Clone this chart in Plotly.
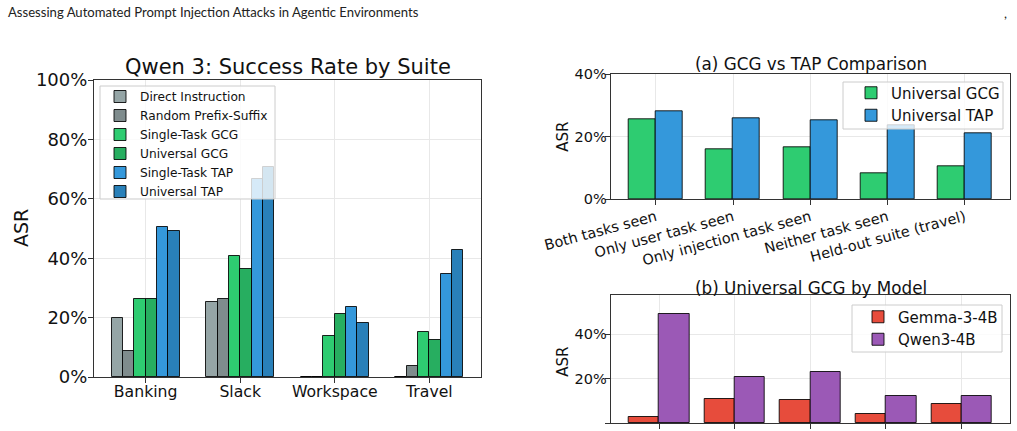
import plotly.graph_objects as go

W, H = 1017, 431

# ---------------- data ----------------
suites = ["Banking", "Slack", "Workspace", "Travel"]
methods = ["Direct Instruction", "Random Prefix-Suffix", "Single-Task GCG",
           "Universal GCG", "Single-Task TAP", "Universal TAP"]
direct_instruction = [20.0, 25.1, 0.0, 0.0]
random_prefix_suffix = [8.8, 26.2, 0.0, 3.8]
single_task_gcg = [26.2, 40.8, 13.7, 15.0]
universal_gcg = [26.2, 36.3, 21.3, 12.6]
single_task_tap = [50.5, 66.7, 23.6, 34.7]
universal_tap = [49.3, 70.7, 18.1, 42.8]
left_series = [direct_instruction, random_prefix_suffix, single_task_gcg,
               universal_gcg, single_task_tap, universal_tap]
method_colors = ["#95a5a6", "#7f8c8d", "#2ecc71", "#27ae60", "#3498db", "#2980b9"]

conditions = ["Both tasks seen", "Only user task seen", "Only injection task seen",
              "Neither task seen", "Held-out suite (travel)"]
cmp_gcg = [25.6, 15.9, 16.6, 8.3, 10.7]
cmp_tap = [28.2, 25.9, 25.3, 23.8, 21.1]

gemma_gcg = [2.8, 11.1, 10.3, 4.0, 8.7]
qwen_gcg = [49.0, 20.9, 22.9, 12.4, 12.4]

left_ticks = [0, 20, 40, 60, 80, 100]
a_ticks = [0, 20, 40]
b_ticks = [0, 20, 40]

# ---------------- helpers ----------------
def px_x(p):
    return p / W

def px_y(p):
    return 1 - p / H

FONT = "DejaVu Sans"
EDGE = dict(color="rgba(0,0,0,0.85)", width=1)
GRID = "#e8e8e8"
SPINE = "#333333"

fig = go.Figure()

# left chart
bw = 0.12
for i, (name, vals, col) in enumerate(zip(methods, left_series, method_colors)):
    fig.add_trace(go.Bar(
        x=suites, y=vals, name=name, width=bw, offset=-0.36 + i * bw,
        marker=dict(color=col, line=EDGE), xaxis="x", yaxis="y",
        legend="legend"))

# (a)
for name, vals, col, off in [("Universal GCG", cmp_gcg, "#2ecc71", -0.35),
                             ("Universal TAP", cmp_tap, "#3498db", 0.0)]:
    fig.add_trace(go.Bar(
        x=conditions, y=vals, name=name, width=0.35, offset=off,
        marker=dict(color=col, line=EDGE), xaxis="x2", yaxis="y2",
        legend="legend2"))

# (b)
for name, vals, col, off in [("Gemma-3-4B", gemma_gcg, "#e74c3c", -0.4),
                             ("Qwen3-4B", qwen_gcg, "#9b59b6", 0.0)]:
    fig.add_trace(go.Bar(
        x=conditions, y=vals, name=name, width=0.4, offset=off,
        marker=dict(color=col, line=EDGE), xaxis="x3", yaxis="y3",
        legend="legend3"))

def xax(domain, anchor, rng, fsize, angle=0, labels=True, standoff=0):
    return dict(domain=domain, anchor=anchor, type="category", range=rng,
                showgrid=True, gridcolor=GRID, gridwidth=1,
                showline=True, linecolor=SPINE, linewidth=1, mirror=True,
                ticks="outside", ticklen=5, tickcolor=SPINE,
                showticklabels=labels, ticklabelstandoff=standoff,
                tickfont=dict(family=FONT, size=fsize, color="#111"),
                tickangle=angle, automargin=False, zeroline=False,
                fixedrange=True)

def yax(domain, anchor, rng, tv, fsize, standoff=0):
    return dict(domain=domain, anchor=anchor, range=rng, tickmode="array",
                tickvals=tv, ticktext=[f"{v}%" for v in tv],
                showgrid=True, gridcolor=GRID, gridwidth=1,
                showline=True, linecolor=SPINE, linewidth=1, mirror=True,
                ticks="outside", ticklen=5, tickcolor=SPINE,
                ticklabelstandoff=standoff,
                tickfont=dict(family=FONT, size=fsize, color="#111"),
                automargin=False, zeroline=False, fixedrange=True)

legend_common = dict(bgcolor="rgba(0,0,0,0)", borderwidth=0,
                     xanchor="left", yanchor="top", tracegroupgap=0)

fig.update_layout(
    width=W, height=H, template="none",
    margin=dict(l=0, r=0, t=0, b=0), autosize=False,
    paper_bgcolor="white", plot_bgcolor="white",
    barmode="overlay", bargap=0,
    font=dict(family=FONT, color="#111"),
    xaxis=xax([px_x(94), px_x(481)], "y", [-0.546, 3.546], 15.7, standoff=-5),
    yaxis=yax([px_y(377), px_y(80)], "x", [0, 100], left_ticks, 18, standoff=-3),
    xaxis2=xax([px_x(610.7), px_x(1010)], "y2", [-0.585, 4.585], 14.5, -15, standoff=-2),
    yaxis2=yax([px_y(199.3), px_y(74.3)], "x2", [0, 40], a_ticks, 14.5, standoff=-5),
    xaxis3=xax([px_x(610.7), px_x(1010)], "y3", [-0.64, 4.64], 14.5, -15, False),
    yaxis3=yax([px_y(423.3), px_y(295)], "x3", [0, 57.7], b_ticks, 14.5, standoff=-5),
    legend=dict(x=px_x(100), y=px_y(82), font=dict(family=FONT, size=12.2),
                **legend_common),
    legend2=dict(x=px_x(851), y=px_y(76.5), font=dict(family=FONT, size=15),
                 **legend_common),
    legend3=dict(x=px_x(858), y=px_y(300.5), font=dict(family=FONT, size=15),
                 **legend_common),
    showlegend=True,
)

# legend frames (semi-transparent, above bars like matplotlib)
for x0, y0, x1, y1 in [(100, 86, 275, 199), (843, 82, 1003, 129), (852, 305, 1002, 352)]:
    fig.add_shape(type="rect", xref="paper", yref="paper",
                  x0=px_x(x0), x1=px_x(x1), y0=px_y(y1), y1=px_y(y0),
                  fillcolor="rgba(255,255,255,0.8)",
                  line=dict(color="#cccccc", width=1), layer="above")

ann = [
    dict(text="Qwen 3: Success Rate by Suite", x=px_x(288), y=px_y(67),
         font=dict(family=FONT, size=21)),
    dict(text="(a) GCG vs TAP Comparison", x=px_x(811), y=px_y(64),
         font=dict(family=FONT, size=16.8)),
    dict(text="(b) Universal GCG by Model", x=px_x(811), y=px_y(288),
         font=dict(family=FONT, size=16.8)),
    dict(text="ASR", x=px_x(21), y=px_y(228), textangle=-90,
         font=dict(family=FONT, size=19)),
    dict(text="ASR", x=px_x(563), y=px_y(136.7), textangle=-90,
         font=dict(family=FONT, size=15)),
    dict(text="ASR", x=px_x(563), y=px_y(361.7), textangle=-90,
         font=dict(family=FONT, size=15)),
]
for a in ann:
    fig.add_annotation(xref="paper", yref="paper", showarrow=False,
                       xanchor="center", yanchor="middle", **a)

fig.add_annotation(text="Assessing Automated Prompt Injection Attacks in Agentic Environments",
                   xref="paper", yref="paper", x=px_x(6), y=px_y(12),
                   xanchor="left", yanchor="middle", showarrow=False,
                   font=dict(family="Lato", size=13.1, color="#222"))
fig.add_annotation(text=",", xref="paper", yref="paper", x=px_x(1005), y=px_y(13),
                   xanchor="center", yanchor="middle", showarrow=False,
                   font=dict(family="Lato", size=13.1, color="#222"))

fig.write_html("out.html")
